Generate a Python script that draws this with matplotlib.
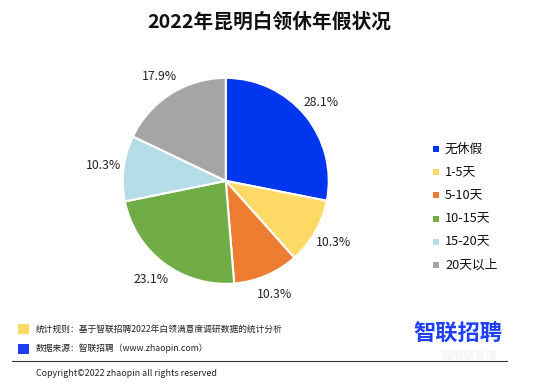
import matplotlib.pyplot as plt
from matplotlib.patches import Rectangle
from matplotlib.lines import Line2D

plt.rcParams['font.family'] = ['Noto Sans CJK SC', 'DejaVu Sans']

categories = ['无休假', '1-5天', '5-10天', '10-15天', '15-20天', '20天以上']
shares = [28.1, 10.3, 10.3, 23.1, 10.3, 17.9]
colors = ['#0037EE', '#FFD966', '#ED7D31', '#70AD47', '#B4DDE7', '#A5A5A5']

fig = plt.figure(figsize=(5.52, 3.84), dpi=100)
fig.patch.set_facecolor('white')

# pie
ax = fig.add_axes([0.409 - 0.1866, 0.529 - 0.2682, 0.3732, 0.5364])
wedges, texts, autotexts = ax.pie(
    shares, colors=colors, startangle=90, counterclock=False,
    autopct='%.1f%%', pctdistance=1.2, radius=1.0,
    wedgeprops=dict(edgecolor='white', linewidth=1.5),
    textprops=dict(fontsize=8.8, color='#222222'))
ax.set_xlim(-1.0, 1.0)
ax.set_ylim(-1.0, 1.0)
ax.set_aspect('equal')

fig.text(0.488, 0.942, '2022年昆明白领休年假状况', ha='center', va='center',
         fontsize=14.2, fontweight='bold', color='#111111')

# legend
y0 = 149
for i, (name, c) in enumerate(zip(categories, colors)):
    y = y0 + i * 23.2
    fig.patches.append(Rectangle((433 / 552, 1 - (y + 3) / 384), 6 / 552, 6 / 384,
                                 transform=fig.transFigure, facecolor=c, edgecolor='none'))
    fig.text(445 / 552, 1 - y / 384, name, ha='left', va='center', fontsize=9.2, color='#111111')

# footer notes
fig.patches.append(Rectangle((18 / 552, 1 - 334 / 384), 11 / 552, 10 / 384,
                             transform=fig.transFigure, facecolor='#FFD966', edgecolor='none'))
fig.patches.append(Rectangle((18 / 552, 1 - 354 / 384), 11 / 552, 10 / 384,
                             transform=fig.transFigure, facecolor='#1F3FF5', edgecolor='none'))
fig.text(36 / 552, 1 - 329 / 384, '统计规则：基于智联招聘2022年白领满意度调研数据的统计分析',
         ha='left', va='center', fontsize=6.3, color='#222222')
fig.text(36 / 552, 1 - 348 / 384, '数据来源：智联招聘（www.zhaopin.com）',
         ha='left', va='center', fontsize=6.3, color='#222222')
fig.lines.append(Line2D([12 / 552, 507 / 552], [1 - 361 / 384] * 2,
                        transform=fig.transFigure, color='#333333', linewidth=0.8))
fig.text(36 / 552, 1 - 373 / 384, 'Copyright©2022 zhaopin all rights reserved',
         ha='left', va='center', fontsize=6.4, color='#222222')

# logo and faint watermark
fig.text(458 / 552, 1 - 334 / 384, '智联招聘', ha='center', va='center',
         fontsize=16, fontweight='bold', color='#1F3FF5')
fig.text(470 / 552, 1 - 355 / 384, '昆明信息港', ha='center', va='center',
         fontsize=8, fontweight='bold', color='#F4F4F4', zorder=0)

fig.savefig('out.png', dpi=100, facecolor='white')
